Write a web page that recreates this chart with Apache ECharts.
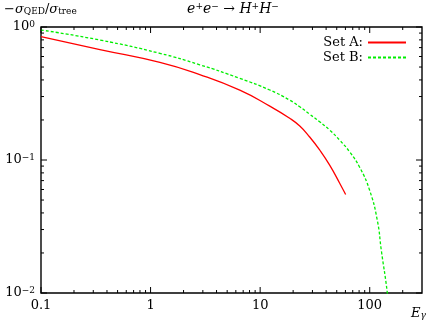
<!DOCTYPE html>
<html>
<head>
<meta charset="utf-8">
<script src="https://cdn.jsdelivr.net/npm/echarts@6/dist/echarts.min.js"></script>
<style>
  html, body { margin: 0; padding: 0; background: #fff; }
  #chart { width: 432px; height: 327px; }
</style>
</head>
<body>
<div id="chart"></div>
<script>
// data
const setA_E   = [0.1, 0.345, 1.216, 2.81, 6.52, 12.24, 18.6, 23.0, 28.3, 34.9, 43.1, 53.2, 60.3]
const setA_val = [0.845, 0.677, 0.542, 0.439, 0.335, 0.254, 0.206, 0.180, 0.149, 0.119, 0.0914, 0.0669, 0.055]
const setB_E   = [0.1, 0.345, 1.216, 2.81, 6.52, 12.24, 18.6, 23.0, 28.3, 34.9, 43.1, 53.2, 65.6, 80.9, 99.8, 117.3, 127.6, 144.6, 150]
const setB_val = [0.949, 0.798, 0.634, 0.520, 0.411, 0.336, 0.282, 0.251, 0.221, 0.194, 0.168, 0.141, 0.115, 0.0883, 0.0592, 0.0352, 0.0209, 0.0101, 0.007]

const xLabels = [0.1, 1, 10, 100]
const xMajor = [0.1, 1, 10, 100]
const xMinor = [0.2, 0.3, 0.4, 0.5, 0.6, 0.7, 0.8, 0.9, 2, 3, 4, 5, 6, 7, 8, 9, 20, 30, 40, 50, 60, 70, 80, 90, 200]
const yMajor = [0.01, 0.1, 1]
const yMinor = [0.02, 0.03, 0.04, 0.05, 0.06, 0.07, 0.08, 0.09, 0.2, 0.3, 0.4, 0.5, 0.6, 0.7, 0.8, 0.9]

const X_MIN = 0.1, X_MAX = 300, Y_MIN = 0.01, Y_MAX = 1
const FONT = 'DejaVu Serif'

let myChart = echarts.init(document.getElementById('chart'))

function zip(a, b) {
  return a.map((v, i) => [v, b[i]])
}

// tick marks on all four sides: [x, y, length]
let xTicks = []
let yTicks = []
for (let edge of [Y_MIN, Y_MAX]) {
  xMajor.forEach(v => xTicks.push([v, edge, 6]))
  xMinor.forEach(v => xTicks.push([v, edge, 3]))
}
for (let edge of [X_MIN, X_MAX]) {
  yMajor.forEach(v => yTicks.push([edge, v, 6]))
  yMinor.forEach(v => yTicks.push([edge, v, 3]))
}

function tickItem(vertical) {
  return function (params, api) {
    let x = api.value(0), y = api.value(1), len = api.value(2)
    let p = api.coord([x, y])
    let shape
    if (vertical) {
      let dir = Math.abs(y - Y_MIN) < 1e-9 ? -1 : 1
      shape = { x1: p[0], y1: p[1], x2: p[0], y2: p[1] + dir * len }
    } else {
      let dir = Math.abs(x - X_MIN) < 1e-9 ? 1 : -1
      shape = { x1: p[0], y1: p[1], x2: p[0] + dir * len, y2: p[1] }
    }
    return { type: 'line', shape: shape, style: { stroke: '#000', lineWidth: 1 } }
  }
}

const subRich = {
  n: { fontFamily: FONT, fontSize: 13, fill: '#000', lineHeight: 13, verticalAlign: 'top' },
  i: { fontFamily: FONT, fontSize: 13, fontStyle: 'italic', fill: '#000', lineHeight: 13, verticalAlign: 'top' },
  s: { fontFamily: FONT, fontSize: 9, fill: '#000', lineHeight: 9, verticalAlign: 'bottom', padding: [7, 0, 0, 0] },
  si: { fontFamily: FONT, fontSize: 9, fontStyle: 'italic', fill: '#000', lineHeight: 9, verticalAlign: 'bottom', padding: [7, 0, 0, 0] }
}
const supRich = {
  n: { fontFamily: FONT, fontSize: 14, fill: '#000', lineHeight: 14, verticalAlign: 'bottom', padding: [6, 0, 0, 0] },
  i: { fontFamily: FONT, fontSize: 14, fontStyle: 'italic', fill: '#000', lineHeight: 14, verticalAlign: 'bottom', padding: [6, 0, 0, 0] },
  p: { fontFamily: FONT, fontSize: 9, fill: '#000', lineHeight: 9, verticalAlign: 'top' }
}

let opt = {
  animation: false,
  grid: {
    left: 41, right: 10, top: 27, bottom: 34,
    show: true, borderColor: '#000', borderWidth: 1.4, backgroundColor: 'transparent'
  },
  legend: {
    orient: 'vertical',
    right: 20, top: 31,
    align: 'right',
    itemWidth: 38, itemHeight: 13, itemGap: 2,
    itemStyle: { opacity: 0 },
    textStyle: { fontFamily: FONT, fontSize: 13, color: '#000' },
    data: ['Set A:', 'Set B:']
  },
  graphic: [
    {
      type: 'text', x: 4, y: 3,
      style: { text: '{n|−}{i|σ}{s|QED}{n|/}{i|σ}{s|tree}', rich: subRich }
    },
    {
      type: 'text', x: 233, y: 2,
      style: { text: '{i|e}{p|+}{i|e}{p|−}{n| → }{i|H}{p|+}{i|H}{p|−}', rich: supRich, align: 'center' }
    },
    {
      type: 'text', x: 411, y: 307,
      style: { text: '{i|E}{si|γ}', rich: subRich }
    }
  ],
  xAxis: {
    type: 'log', logBase: 10, min: X_MIN, max: X_MAX,
    axisLine: { show: false },
    axisTick: { show: false },
    splitLine: { show: false },
    axisLabel: {
      margin: 6, fontFamily: FONT, fontSize: 13, color: '#000',
      customValues: xLabels,
      formatter: v => String(v)
    }
  },
  yAxis: {
    type: 'log', logBase: 10, min: Y_MIN, max: Y_MAX,
    axisLine: { show: false },
    axisTick: { show: false },
    splitLine: { show: false },
    axisLabel: {
      margin: 6,
      formatter: v => {
        let e = Math.round(Math.log10(v))
        return '{b|10}{sup|' + (e < 0 ? '−' + (-e) : String(e)) + '}'
      },
      rich: {
        b: { fontFamily: FONT, fontSize: 13, color: '#000', lineHeight: 13, verticalAlign: 'bottom', padding: [6, 0, 0, 0] },
        sup: { fontFamily: FONT, fontSize: 9, color: '#000', lineHeight: 9, verticalAlign: 'top' }
      }
    }
  },
  series: [
    {
      name: 'Set A:', type: 'line',
      smooth: 0.5, symbol: 'none', clip: true,
      lineStyle: { color: '#ff0000', width: 1.3 },
      itemStyle: { color: '#ff0000' },
      data: zip(setA_E, setA_val)
    },
    {
      name: 'Set B:', type: 'line',
      smooth: 0.5, symbol: 'none', clip: true,
      lineStyle: { color: '#00ee00', width: 1.3, type: [3, 2] },
      itemStyle: { color: '#00ee00' },
      data: zip(setB_E, setB_val)
    },
    {
      name: 'xticks', type: 'custom', silent: true, z: 10,
      encode: { x: 0, y: 1 },
      renderItem: tickItem(true),
      data: xTicks
    },
    {
      name: 'yticks', type: 'custom', silent: true, z: 10,
      encode: { x: 0, y: 1 },
      renderItem: tickItem(false),
      data: yTicks
    }
  ]
}

myChart.setOption(opt)
</script>
</body>
</html>
